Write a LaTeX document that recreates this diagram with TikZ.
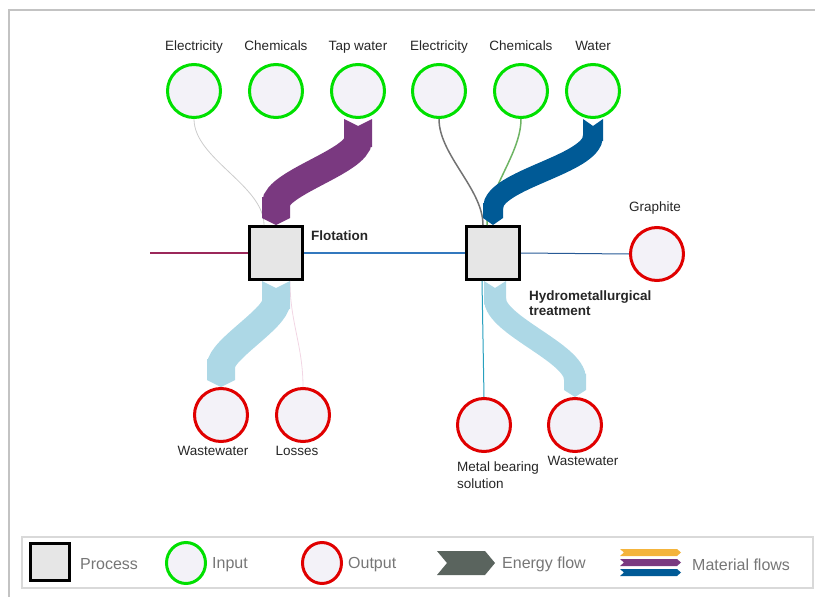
\documentclass[tikz,border=0pt]{standalone}
\usepackage{fontspec}
\setmainfont{Liberation Sans}
\usepackage{tikz}
\usetikzlibrary{arrows.meta,positioning,shapes.geometric}
\definecolor{ingreen}{RGB}{0,224,0}
\definecolor{outred}{RGB}{224,0,0}
\definecolor{nodefill}{RGB}{243,242,248}
\definecolor{boxgray}{RGB}{230,230,230}
\definecolor{matpurple}{RGB}{122,57,128}
\definecolor{matblue}{RGB}{0,90,150}
\definecolor{matorange}{RGB}{244,180,60}
\definecolor{wwblue}{RGB}{173,216,230}
\definecolor{enggray}{RGB}{90,100,94}
\definecolor{legtext}{RGB}{118,118,118}
\definecolor{framegray}{RGB}{195,195,195}
\definecolor{feedred}{RGB}{155,40,90}
\definecolor{linkblue}{RGB}{50,120,190}
\definecolor{grblue}{RGB}{40,90,150}
\definecolor{chemgreen}{RGB}{110,180,100}
\definecolor{losspink}{RGB}{242,214,228}
\definecolor{metteal}{RGB}{40,160,190}

\tikzset{
  inp/.style={circle,draw=ingreen,fill=nodefill,line width=3pt,minimum size=53pt,inner sep=0pt},
  outp/.style={circle,draw=outred,fill=nodefill,line width=3pt,minimum size=53pt,inner sep=0pt},
  procbox/.style={rectangle,draw=black,fill=boxgray,line width=3pt,minimum size=53pt,inner sep=0pt},
  lbl/.style={font=\fontsize{13.5}{15}\selectfont,text=black!85,inner sep=1pt},
  plbl/.style={lbl,font=\fontsize{13.5}{15}\selectfont\bfseries,align=left},
  leglbl/.style={font=\fontsize{16}{18}\selectfont,text=legtext,anchor=west,inner sep=0pt},
  band/.style={arrows={Triangle Cap[reversed,length=7pt]-Triangle Cap[length=7pt]}},
}

\begin{document}
\begin{tikzpicture}[x=1pt,y=-1pt]
  \useasboundingbox (0,0) rectangle (815,597);
  \draw[framegray,line width=2pt] (9,597) -- (9,10) -- (815,10);

  \node[procbox] (flot) at (276,253) {};
  \node[procbox] (hydro) at (493,253) {};
  \node[plbl,anchor=west] (tflot) at (310,236) {Flotation};
  \node[plbl,anchor=north west] (thydro) at (528,290) {Hydrometallurgical\\treatment};

  \foreach \n/\x/\t in {inE1/194/Electricity,inC1/276/Chemicals,inTW/358/Tap water,inE2/439/Electricity,inC2/521/Chemicals,inW/593/Water}{
    \node[inp] (\n) at (\x,91) {};
    \node[lbl,anchor=base] (t\n) at (\x,50) {\t};
  }
  \foreach \n/\x/\y in {outWW1/221/415,outLoss/303/415,outMet/484/425,outWW2/575/425,outGr/657/254}
    \node[outp] (\n) at (\x,\y) {};
  \node[lbl] (toutWW1) at (213,451) {Wastewater};
  \node[lbl] (toutLoss) at (297,451) {Losses};
  \node[lbl,anchor=north west,align=left] (toutMet) at (456,461) {Metal bearing\\[2pt]solution};
  \node[lbl] (toutWW2) at (583,461) {Wastewater};
  \node[lbl] (toutGr) at (655,208) {Graphite};

  \coordinate (feed) at (150,253);
  \draw[feedred,line width=1.5pt] (feed) -- (flot.west);
  \draw[linkblue,line width=1.2pt] (flot.east) -- (hydro.west);
  \draw[grblue,line width=1pt] (hydro.east) -- (outGr.west);

  \draw[black!20,line width=0.8pt] (inE1.south) to[out=-90,in=90,looseness=0.8] ([xshift=-12pt]flot.north);
  \draw[matpurple,line width=28pt,band] (inTW.south) to[out=-90,in=90,looseness=0.8] (flot.north);
  \draw[black!55,line width=1.5pt] (inE2.south) to[out=-90,in=90,looseness=0.8] ([xshift=-10pt]hydro.north);
  \draw[chemgreen,line width=1.5pt] (inC2.south) to[out=-90,in=90,looseness=0.8] ([xshift=-6pt]hydro.north);
  \draw[matblue,line width=20pt,band] (inW.south) to[out=-90,in=90,looseness=0.8] (hydro.north);

  \draw[losspink,line width=0.8pt] ([xshift=14pt]flot.south) to[out=-90,in=90] (outLoss.north);
  \draw[wwblue,line width=28pt,band] (flot.south) to[out=-90,in=90,looseness=0.8] (outWW1.north);
  \draw[metteal,line width=1pt] ([xshift=-11pt]hydro.south) -- (outMet.north);
  \draw[wwblue,line width=22pt,band] ([xshift=2pt]hydro.south) to[out=-90,in=90,looseness=0.8] (outWW2.north);

  \draw[black!15,line width=2pt] (22,537) rectangle (813,588);
  \node[procbox,minimum width=39pt,minimum height=37pt] (lgproc) at (49.5,562) {};
  \node[leglbl] (tlgproc) at (80,564.5) {Process};
  \node[inp,ellipse,minimum width=39pt,minimum height=41pt] (lgin) at (186,563) {};
  \node[leglbl] (tlgin) at (212,564.5) {Input};
  \node[outp,ellipse,minimum width=39pt,minimum height=41pt] (lgout) at (322,563) {};
  \node[leglbl] (tlgout) at (348,564.5) {Output};
  \fill[enggray] (437,551) -- (485,551) -- (495,563) -- (485,575) -- (437,575) -- (447,563) -- cycle;
  \node[leglbl] (tlgeng) at (502,564.5) {Energy flow};
  \foreach \c/\y in {matorange/552.5,matpurple/562.5,matblue/572.5}
    \fill[\c] (620,\y-3.5) -- (677,\y-3.5) -- (681,\y) -- (677,\y+3.5) -- (620,\y+3.5) -- (624,\y) -- cycle;
  \node[leglbl] (tlgmat) at (692,564.5) {Material flows};
\end{tikzpicture}
\end{document}
